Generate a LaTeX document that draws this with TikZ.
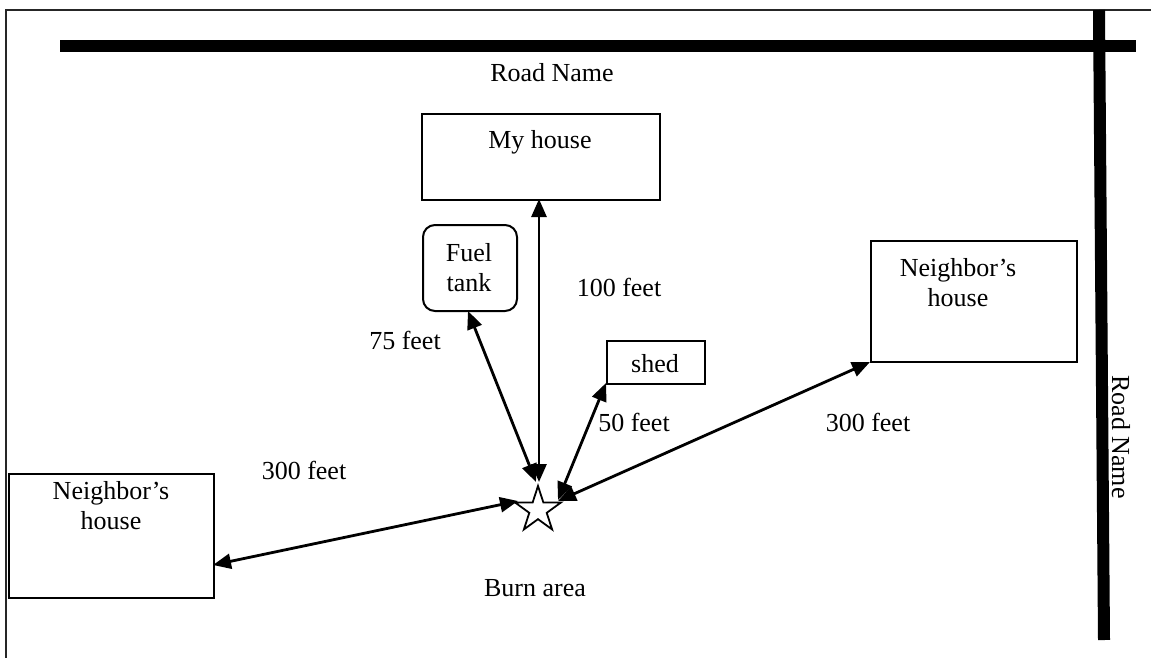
\documentclass[tikz,border=0pt]{standalone}
\usepackage{fontspec}
\setmainfont{Liberation Serif}
\usetikzlibrary{arrows.meta,shapes.geometric}
\begin{document}
\begin{tikzpicture}[x=1pt,y=-1pt,
  every node/.style={font=\fontsize{26}{30}\selectfont},
  box/.style={draw,line width=2pt,inner sep=0pt,anchor=north west},
  txt/.style={inner sep=0pt,align=center},
  road/.style={line width=12pt},
  dist/.style={line width=2.8pt,{Triangle[length=18pt,width=15pt]}-{Triangle[length=18pt,width=15pt]}},
  frame/.style={line width=2pt,black!85}]
\useasboundingbox (0,0) rectangle (1151,658);
\fill[white] (0,0) rectangle (1151,658);
% frame
\coordinate (f1) at (6,658);
\coordinate (f2) at (6,10);
\coordinate (f3) at (1151,10);
\draw[frame] (f1) -- (f2) -- (f3);
% roads
\coordinate (r1) at (60,46);
\coordinate (r2) at (1136,46);
\coordinate (r3) at (1099,10);
\coordinate (r4) at (1104,640);
\draw[road] (r1) -- (r2);
\draw[road] (r3) -- (r4);
\node[txt] (roadtop) at (552,73) {Road Name};
\node[txt,rotate=-90] (roadright) at (1121,437) {Road Name};
% boxes
\node[box,minimum width=238pt,minimum height=86pt] (myhouse) at (421,113) {};
\node[txt] (myhouselbl) at (540,142) {My house};
\node[box,rounded corners=12pt,minimum width=94pt,minimum height=86pt] (fuel) at (422,224) {};
\node[txt] (fuellbl) at (469,268) {Fuel\\tank};
\node[box,minimum width=98pt,minimum height=43pt] (shed) at (606,340) {};
\node[txt] (shedlbl) at (655,364) {shed};
\node[box,minimum width=206pt,minimum height=121pt] (nright) at (870,240) {};
\node[txt] (nrightlbl) at (958,283) {Neighbor’s\\house};
\node[box,minimum width=205pt,minimum height=124pt] (nleft) at (8,473) {};
\node[txt] (nleftlbl) at (111,506) {Neighbor’s\\house};
% burn area
\node[star,star points=5,star point ratio=2.618,draw,line width=1.8pt,inner sep=0pt,minimum size=48pt] (burn) at (538,510) {};
\node[txt] (burnlbl) at (535,588) {Burn area};
% endpoints
\coordinate (b1) at (539,482);
\coordinate (h1) at (539,199);
\coordinate (b2) at (536,482);
\coordinate (t2) at (468,311);
\coordinate (b3) at (558,500);
\coordinate (s3) at (606,383);
\coordinate (b4) at (558,501);
\coordinate (n4) at (870,362);
\coordinate (b5) at (518,501);
\coordinate (n5) at (213,565);
\draw[dist] (b1) -- (h1);
\draw[dist] (b2) -- (t2);
\draw[dist] (b3) -- (s3);
\draw[dist] (b4) -- (n4);
\draw[dist] (b5) -- (n5);
% distance labels
\node[txt] (d100) at (619,287) {100 feet};
\node[txt] (d75) at (405,340) {75 feet};
\node[txt] (d50) at (634,422) {50 feet};
\node[txt] (d300r) at (868,422) {300 feet};
\node[txt] (d300l) at (304,470) {300 feet};
\end{tikzpicture}
\end{document}
